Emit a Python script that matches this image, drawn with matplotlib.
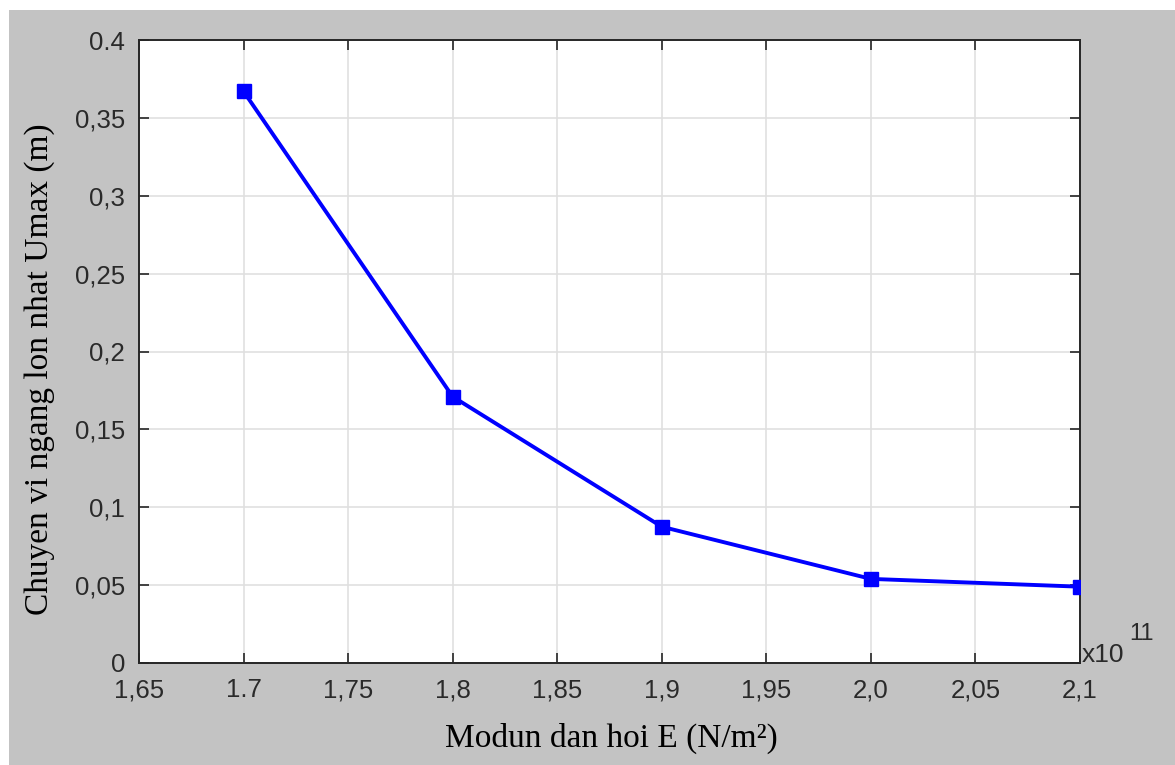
import matplotlib
matplotlib.use("Agg")
import matplotlib.pyplot as plt
from matplotlib.patches import Rectangle

# Elastic modulus E (x 1e11 N/m^2) and maximum horizontal displacement Umax (m)
modulus = [1.7, 1.8, 1.9, 2.0, 2.1]
umax = [0.367, 0.171, 0.0875, 0.054, 0.049]

xticks = [1.65, 1.7, 1.75, 1.8, 1.85, 1.9, 1.95, 2.0, 2.05, 2.1]
xticklabels = ["1,65", "1.7", "1,75", "1,8", "1,85", "1,9", "1,95", "2,0", "2,05", "2,1"]
yticks = [0, 0.05, 0.1, 0.15, 0.2, 0.25, 0.3, 0.35, 0.4]
yticklabels = ["0", "0,05", "0,1", "0,15", "0,2", "0,25", "0,3", "0,35", "0.4"]

W, H = 1175, 765
fig = plt.figure(figsize=(W / 100, H / 100), dpi=100, facecolor="white")

# grey window background
bg = Rectangle((9 / W, 0), 1, 1 - 10 / H, transform=fig.transFigure,
               facecolor="#c3c3c3", edgecolor="none", zorder=-10)
fig.add_artist(bg)

ax = fig.add_axes([139 / W, 1 - 663 / H, (1080 - 139) / W, (663 - 40) / H])
ax.set_zorder(5)
ax.set_facecolor("white")

ax.plot(modulus, umax, color="#0000ff", linewidth=2.8, marker="s",
        markersize=10.5, markerfacecolor="#0000ff", markeredgecolor="#0000ff", zorder=3)

ax.set_xlim(1.65, 2.1)
ax.set_ylim(0, 0.4)
ax.set_xticks(xticks)
ax.set_xticklabels(xticklabels)
ax.set_yticks(yticks)
ax.set_yticklabels(yticklabels)

for lab in ax.get_xticklabels() + ax.get_yticklabels():
    lab.set_fontfamily(["Liberation Sans", "DejaVu Sans"])
    lab.set_fontsize(18.5)
    lab.set_color("#2a2a2a")

ax.tick_params(direction="in", length=7, width=1.2, color="#262626",
               top=True, right=True)
ax.tick_params(axis="x", pad=11)
ax.tick_params(axis="y", pad=10)

ax.grid(True, color="#e0e0e0", linewidth=1.2)
ax.set_axisbelow(True)
for s in ax.spines.values():
    s.set_color("#262626")
    s.set_linewidth(1.4)

label_font = dict(family=["Liberation Serif", "DejaVu Serif"], size=24, color="black")
fig.text(611 / W, 1 - 738 / H, "Modun dan hoi E (N/m\u00b2)", ha="center", va="center",
         **label_font)
fig.text(40 / W, 1 - 369 / H, "Chuyen vi ngang lon nhat Umax (m)", ha="center",
         va="center", rotation=90, **label_font)

# exponent annotation for the x axis
fig.text(1082 / W, 1 - 655 / H, "x10", ha="left", va="center",
         family=["Liberation Sans", "DejaVu Sans"], size=19, color="#2a2a2a")
fig.text(1129 / W, 1 - 634 / H, "11", ha="left", va="center",
         family=["Liberation Sans", "DejaVu Sans"], size=17, color="#2a2a2a")

fig.savefig("out.png", dpi=100, facecolor=fig.get_facecolor())
